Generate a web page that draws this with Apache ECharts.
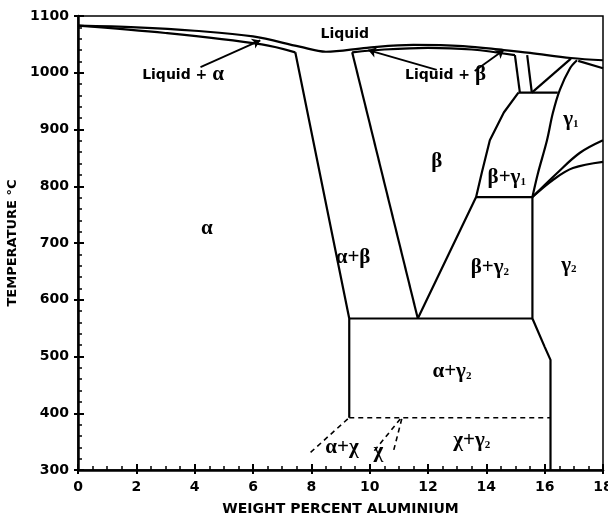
<!DOCTYPE html>
<html><head><meta charset="utf-8">
<script src="https://cdn.jsdelivr.net/npm/echarts@6/dist/echarts.min.js"></script>
<style>html,body{margin:0;padding:0;background:#fff}#c{width:608px;height:518px}</style>
</head><body><div id="c"></div>
<script>
// ---- data (weight % Al, temperature °C) ----
const xTicks = [0, 2, 4, 6, 8, 10, 12, 14, 16, 18];
const yTicks = [300, 400, 500, 600, 700, 800, 900, 1000, 1100];
const liquidus = [[0,1083],[2,1080],[4,1074],[6,1064],[7.6,1046],[8.5,1037],[9.9,1044],[11.5,1049],[13.2,1047],[14.6,1040],[15.5,1035],[16.9,1026],[18,1022]];
const alphaSolidus = [[0,1083],[3,1070],[6.3,1050],[7.45,1036]];
const betaSolidus = [[9.4,1036],[10.5,1041],[12,1044],[13.5,1041],[14.98,1031]];
const alphaBetaBoundary = [[7.45,1036],[9.3,567],[9.3,392]];
const betaLeftBoundary = [[9.4,1036],[11.65,567]];
const betaRightBoundary = [[11.65,567],[13.65,781],[13.85,825],[14.12,881],[14.6,930],[15.1,965]];
const iso780 = [[13.65,781],[15.58,781]];
const iso565 = [[9.3,567],[15.58,567]];
const gamma2Boundary = [[15.58,781],[15.58,567],[16.0,517],[16.2,494],[16.2,300]];
const iso392 = [[9.3,392],[16.2,392]];
const gamma1Left = [[15.58,781],[15.77,823],[16.08,881],[16.28,929],[16.52,970],[16.87,1008],[17.11,1022]];
const iso964 = [[15.1,965],[16.45,965]];
const epsLeft = [[14.98,1031],[15.15,965]];
const epsRight = [[15.4,1031],[15.56,965]];
const epsDiag = [[15.56,965],[16.9,1025]];
const topRight = [[17.15,1021],[18,1008]];
const upperCurve = [[15.58,781],[16.42,823],[17.21,859],[18,881]];
const lowerCurve = [[15.58,781],[16.28,811],[16.97,832],[18,843]];
const chiDash1 = [[9.25,390],[7.95,330]];
const chiDash2 = [[11.05,390],[10.1,330]];
const chiDash3 = [[11.1,390],[10.8,330]];
const arrowFrom = [[4.2,1010],[12.3,1005],[13.6,1003]];
const arrowTo = [[6.25,1057],[9.95,1040],[14.6,1040]];
const labelPoints = [[9.15,1068],[3.6,996],[12.6,996],[4.42,726],[9.43,674],[12.3,843],[14.7,815],[16.9,917],[14.12,656],[16.83,661],[12.82,473],[9.05,340],[10.3,332],[13.5,351]];
const labelTexts = [
  '{t|Liquid}', '{t|Liquid + }{g|α}', '{t|Liquid + }{g|β}',
  '{g|α}', '{g|α+β}', '{g|β}', '{g|β+γ}{s|1}', '{g|γ}{s|1}', '{g|β+γ}{s|2}', '{g|γ}{s|2}',
  '{g|α+γ}{s|2}', '{g|α+χ}', '{g|χ}', '{g|χ+γ}{s|2}'
];

const solid = [liquidus, alphaSolidus, betaSolidus, alphaBetaBoundary, betaLeftBoundary, betaRightBoundary,
  iso780, iso565, gamma2Boundary, gamma1Left, iso964, epsLeft, epsRight, epsDiag, topRight, upperCurve, lowerCurve];
const smoothSet = new Set([liquidus, alphaSolidus, betaSolidus, gamma1Left, upperCurve, lowerCurve]);
const dashed = [iso392, chiDash1, chiDash2, chiDash3];

const chart = echarts.init(document.getElementById('c'), null, {renderer: 'canvas'});
const tickFont = {fontFamily: 'DejaVu Sans', fontWeight: 'bold', fontSize: 14, color: '#000'};
const richStyles = {
  t: {fontFamily: 'DejaVu Sans', fontWeight: 'bold', fontSize: 14, fill: '#000', color: '#000'},
  g: {fontFamily: 'Liberation Serif', fontWeight: 'bold', fontSize: 21, fill: '#000', color: '#000'},
  s: {fontFamily: 'Liberation Serif', fontWeight: 'bold', fontSize: 11, fill: '#000', color: '#000', padding: [9, 0, 0, 0]}
};
const series = [];
solid.forEach(d => series.push({type: 'line', data: d, showSymbol: false, symbol: 'none', smooth: smoothSet.has(d) ? 0.35 : false,
  lineStyle: {color: '#000', width: 2.2}, silent: true, z: 3}));
dashed.forEach(d => series.push({type: 'line', data: d, showSymbol: false, symbol: 'none',
  lineStyle: {color: '#000', width: 1.6, type: [5, 4]}, silent: true, z: 3}));
series.push({type: 'lines', coordinateSystem: 'cartesian2d', silent: true, symbol: ['none', 'arrow'], symbolSize: [0, 8],
  lineStyle: {color: '#000', width: 1.8, opacity: 1},
  data: arrowFrom.map((p, i) => ({coords: [p, arrowTo[i]]})), z: 4});
series.push({type: 'custom', silent: true, z: 5, data: labelPoints,
  renderItem: (params, api) => {
    const p = api.coord([api.value(0), api.value(1)]);
    return {type: 'text', x: p[0], y: p[1],
      style: {text: labelTexts[params.dataIndex], rich: richStyles, fill: '#000', align: 'center', verticalAlign: 'middle'}};
  }});

const plain = v => String(v);
chart.setOption({
  animation: false,
  backgroundColor: '#fff',
  grid: {left: 78, right: 5, top: 16, bottom: 48, show: true, borderColor: '#000', borderWidth: 1.5,
    containLabel: false, outerBoundsMode: 'none'},
  xAxis: [{
    type: 'value', min: xTicks[0], max: xTicks[xTicks.length - 1], interval: 2, position: 'bottom',
    name: 'WEIGHT PERCENT ALUMINIUM', nameLocation: 'middle', nameGap: 32,
    nameTextStyle: {fontFamily: 'DejaVu Sans', fontWeight: 'bold', fontSize: 14, color: '#000'},
    axisLine: {lineStyle: {color: '#000', width: 2.5}},
    axisTick: {inside: true, length: 6, lineStyle: {color: '#000', width: 2}},
    minorTick: {show: true, splitNumber: 4, length: 4, lineStyle: {color: '#000', width: 1.5}},
    axisLabel: Object.assign({margin: 10, formatter: plain}, tickFont),
    splitLine: {show: false}
  }, {
    type: 'value', min: xTicks[0], max: xTicks[xTicks.length - 1], interval: 2, position: 'bottom', offset: 0,
    axisLine: {show: false}, axisLabel: {show: false},
    axisTick: {inside: false, length: 4, lineStyle: {color: '#000', width: 2}}, splitLine: {show: false}
  }],
  yAxis: [{
    type: 'value', min: yTicks[0], max: yTicks[yTicks.length - 1], interval: 100, position: 'left',
    name: 'TEMPERATURE °C', nameLocation: 'middle', nameGap: 51,
    nameTextStyle: {fontFamily: 'DejaVu Sans', fontWeight: 'bold', fontSize: 13, color: '#000'},
    axisLine: {lineStyle: {color: '#000', width: 2.5}},
    axisTick: {inside: true, length: 6, lineStyle: {color: '#000', width: 2}},
    minorTick: {show: true, splitNumber: 5, length: 4, lineStyle: {color: '#000', width: 1.5}},
    axisLabel: Object.assign({margin: 9, formatter: plain}, tickFont),
    splitLine: {show: false}
  }, {
    type: 'value', min: yTicks[0], max: yTicks[yTicks.length - 1], interval: 100, position: 'left', offset: 0,
    axisLine: {show: false}, axisLabel: {show: false},
    axisTick: {inside: false, length: 4, lineStyle: {color: '#000', width: 2}}, splitLine: {show: false}
  }],
  series: series
});
</script></body></html>
